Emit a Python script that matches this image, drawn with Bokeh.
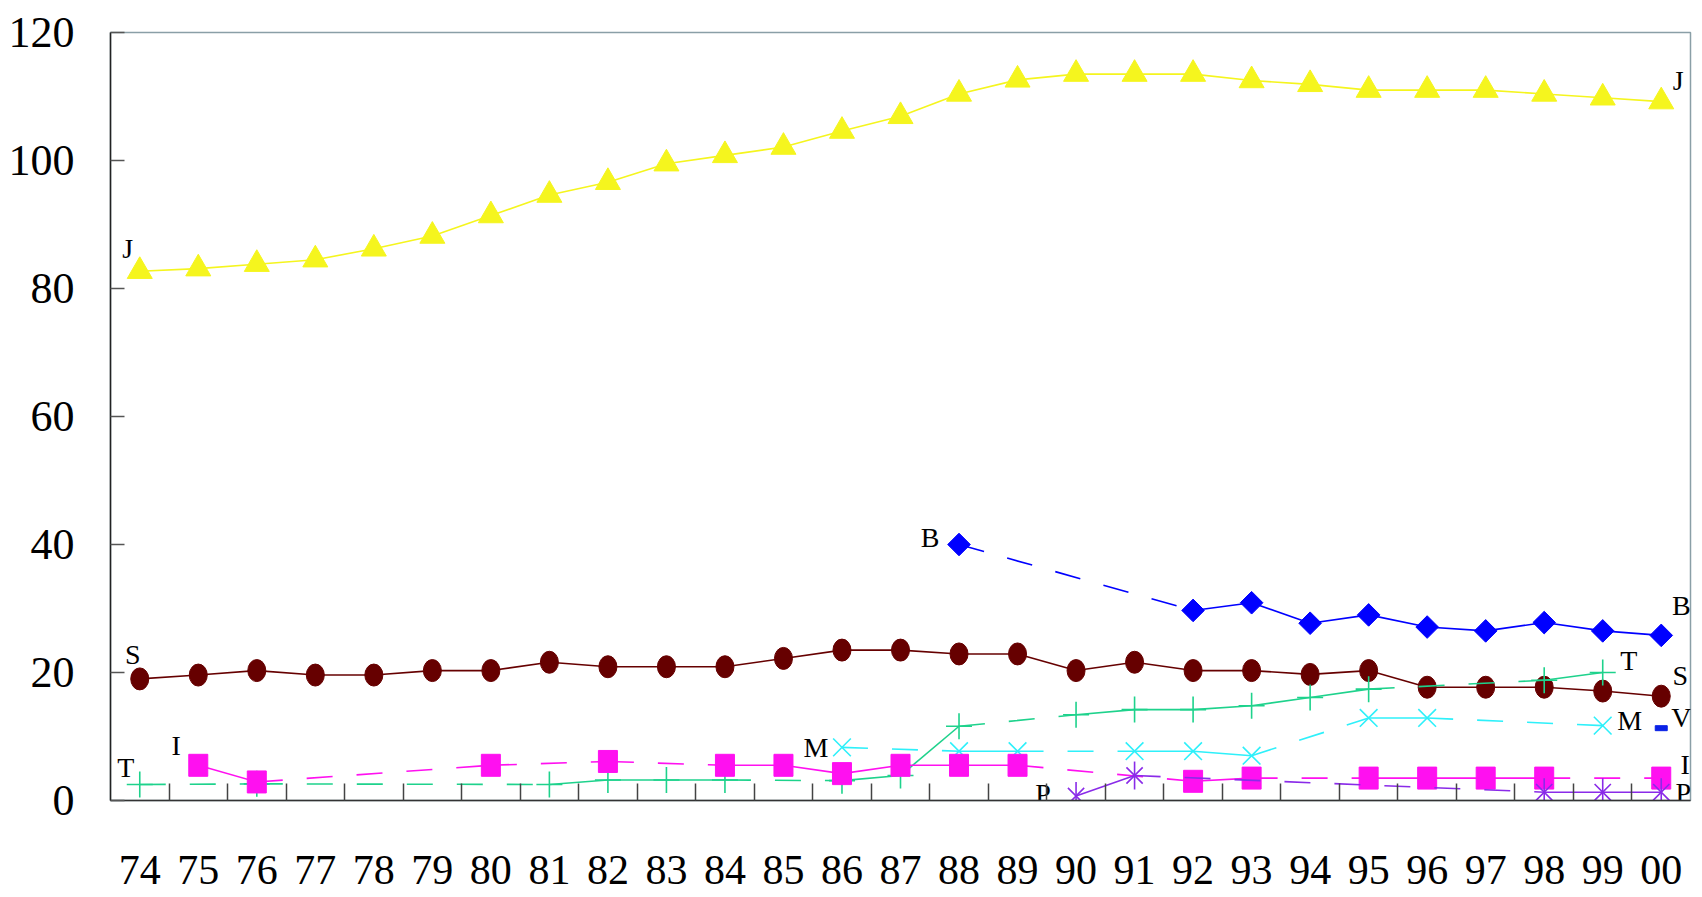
import math
from bokeh.plotting import figure
from bokeh.models import ColumnDataSource, FixedTicker
from bokeh.core.properties import value
from bokeh.embed import file_html
from bokeh.resources import INLINE

# ---------------- data ----------------
year_labels = ["74", "75", "76", "77", "78", "79", "80", "81", "82", "83", "84", "85", "86",
               "87", "88", "89", "90", "91", "92", "93", "94", "95", "96", "97", "98", "99", "00"]
y_ticks = [0, 20, 40, 60, 80, 100, 120]

J = [82.7, 83.1, 83.8, 84.5, 86.2, 88.2, 91.4, 94.6, 96.6, 99.5, 100.8, 102.1, 104.6, 106.9,
     110.4, 112.6, 113.5, 113.5, 113.5, 112.5, 111.9, 111.0, 111.0, 111.0, 110.4, 109.8, 109.2]
S = [19.0, 19.6, 20.3, 19.6, 19.6, 20.3, 20.3, 21.6, 20.9, 20.9, 20.9, 22.2, 23.5, 23.5,
     22.9, 22.9, 20.3, 21.6, 20.3, 20.3, 19.7, 20.3, 17.7, 17.7, 17.7, 17.1, 16.3]
B = [None, None, None, None, None, None, None, None, None, None, None, None, None, None,
     40.0, None, None, None, 29.7, 30.9, 27.7, 29.0, 27.1, 26.5, 27.8, 26.5, 25.8]
T = [2.5, None, 2.6, None, None, None, None, 2.5, 3.2, 3.2, 3.2, None, 3.1, 3.9,
     11.6, None, 13.4, 14.2, 14.2, 14.8, 16.1, 17.4, None, None, 18.8, 20.0, None]
I = [None, 5.5, 2.9, None, None, None, 5.5, None, 6.1, None, 5.5, 5.5, 4.2, 5.5,
     5.5, 5.5, None, None, 3.0, 3.5, None, 3.5, 3.5, 3.5, 3.5, None, 3.5]
M = [None, None, None, None, None, None, None, None, None, None, None, None, 8.3, None,
     7.7, 7.7, None, 7.7, 7.7, 7.0, None, 12.9, 12.9, None, None, 11.7, None]
P = [None, None, None, None, None, None, None, None, None, None, None, None, None, None,
     None, None, 0.7, 3.9, None, None, None, None, None, None, 1.3, 1.3, 1.3]
V = [None, None, None, None, None, None, None, None, None, None, None, None, None, None,
     None, None, None, None, None, None, None, None, None, None, None, None, 11.3]

pos = list(range(len(year_labels)))

# ---------------- figure ----------------
SERIF = "Liberation Serif"
p = figure(width=1694, height=897, x_range=(-0.5, len(year_labels) - 0.5), y_range=(0, 120),
           output_backend="svg", toolbar_location=None,
           min_border_left=110, min_border_right=4, min_border_top=32, min_border_bottom=97)
p.xgrid.visible = False
p.ygrid.visible = False
p.outline_line_color = "#8a9fa7"
p.outline_line_width = 1.5
p.background_fill_color = "white"
p.border_fill_color = "white"

xa = p.xaxis[0]
xa.ticker = FixedTicker(ticks=pos, minor_ticks=[i + 0.5 for i in pos[:-1]])
xa.major_label_overrides = {i: lab for i, lab in zip(pos, year_labels)}
xa.major_tick_line_color = None
xa.minor_tick_in = 17
xa.minor_tick_out = 0
xa.minor_tick_line_color = "#444444"
xa.minor_tick_line_width = 1.5
xa.axis_line_color = "#333333"
xa.axis_line_width = 1.5
xa.major_label_text_font = SERIF
xa.major_label_text_font_size = "42px"
xa.major_label_text_color = "black"
xa.major_label_standoff = 49

ya = p.yaxis[0]
ya.ticker = FixedTicker(ticks=y_ticks)
ya.major_tick_in = 14
ya.major_tick_out = 0
ya.major_tick_line_color = "#555555"
ya.major_tick_line_width = 1.5
ya.minor_tick_line_color = None
ya.axis_line_color = "#222222"
ya.axis_line_width = 1.5
ya.major_label_text_font = SERIF
ya.major_label_text_font_size = "44px"
ya.major_label_text_color = "black"
ya.major_label_standoff = 36

DASH = "26 24"


def segments(vals):
    pts = [(x, v) for x, v in zip(pos, vals) if v is not None]
    solid_x, solid_y, dash_x, dash_y = [], [], [], []
    for (x0, y0), (x1, y1) in zip(pts[:-1], pts[1:]):
        if x1 - x0 == 1:
            solid_x.append([x0, x1]); solid_y.append([y0, y1])
        else:
            dash_x.append([x0, x1]); dash_y.append([y0, y1])
    return pts, solid_x, solid_y, dash_x, dash_y


def draw_lines(vals, color, width=1.6):
    pts, sx, sy, dx, dy = segments(vals)
    if sx:
        p.multi_line(sx, sy, line_color=color, line_width=width)
    if dx:
        p.multi_line(dx, dy, line_color=color, line_width=width, line_dash=DASH)
    xs = [q[0] for q in pts]
    ys = [q[1] for q in pts]
    return xs, ys


# J - yellow triangles
cJ = "#f5f51e"
xs, ys = draw_lines(J, cJ)
p.scatter(xs, ys, marker="triangle", size=25, fill_color=cJ, line_color=cJ)

# S - dark red circles
cS = "#660000"
xs, ys = draw_lines(S, cS)
p.ellipse(xs, ys, width=18, height=22, width_units="screen", height_units="screen",
          fill_color=cS, line_color=cS)

# B - blue diamonds
cB = "#0000ff"
xs, ys = draw_lines(B, cB)
p.scatter(xs, ys, marker="square", angle=math.pi / 4, size=16, fill_color=cB, line_color=cB)

# T - green crosses
cT = "#1ed28c"
xs, ys = draw_lines(T, cT)
p.scatter(xs, ys, marker="cross", size=26, line_color=cT, line_width=1.6)

# M - cyan x
cM = "#2ef0fa"
xs, ys = draw_lines(M, cM)
p.scatter(xs, ys, marker="x", size=25, line_color=cM, line_width=1.6)

# I - magenta squares
cI = "#ff10f0"
xs, ys = draw_lines(I, cI)
p.rect(xs, ys, width=19, height=22, width_units="screen", height_units="screen",
       fill_color=cI, line_color=cI)

# P - purple asterisks
cP = "#8a2be8"
xs, ys = draw_lines(P, cP)
p.scatter(xs, ys, marker="x", size=23, line_color=cP, line_width=1.6)
p.scatter(xs, ys, marker="dash", angle=math.pi / 2, size=28, line_color=cP, line_width=1.6)

# V - single small blue mark
cV = "#0a22e6"
xs, ys = draw_lines(V, cV)
p.rect(xs, ys, width=12, height=5, width_units="screen", height_units="screen",
       fill_color=cV, line_color=cV)

# ---------------- series labels ----------------
series = [("J", J), ("S", S), ("B", B), ("T", T), ("I", I), ("M", M), ("P", P), ("V", V)]
start_off = {"J": (-12, -23), "S": (-7, -24), "B": (-29, -7), "T": (-14, -17),
             "I": (-22, -20), "M": (-26, 0), "P": (-33, -3)}
end_off = {"J": (17, -21), "S": (19, -21), "B": (20, -30), "T": (26, -12),
           "I": (24, -14), "M": (27, -5), "P": (22, 0), "V": (20, -11)}
lx, ly, lt, lox, loy = [], [], [], [], []
for name, vals in series:
    pts = [(x, v) for x, v in zip(pos, vals) if v is not None]
    if name in start_off:
        lx.append(pts[0][0]); ly.append(pts[0][1]); lt.append(name)
        lox.append(start_off[name][0]); loy.append(start_off[name][1])
    lx.append(pts[-1][0]); ly.append(pts[-1][1]); lt.append(name)
    lox.append(end_off[name][0]); loy.append(end_off[name][1])

lsrc = ColumnDataSource(dict(x=lx, y=ly, text=lt, xo=lox, yo=loy))
p.text(x="x", y="y", text="text", x_offset="xo", y_offset="yo", source=lsrc,
       text_font=value(SERIF), text_font_size="28px", text_color="black",
       text_align="center", text_baseline="middle")

open("out.html", "w").write(file_html(p, INLINE))
